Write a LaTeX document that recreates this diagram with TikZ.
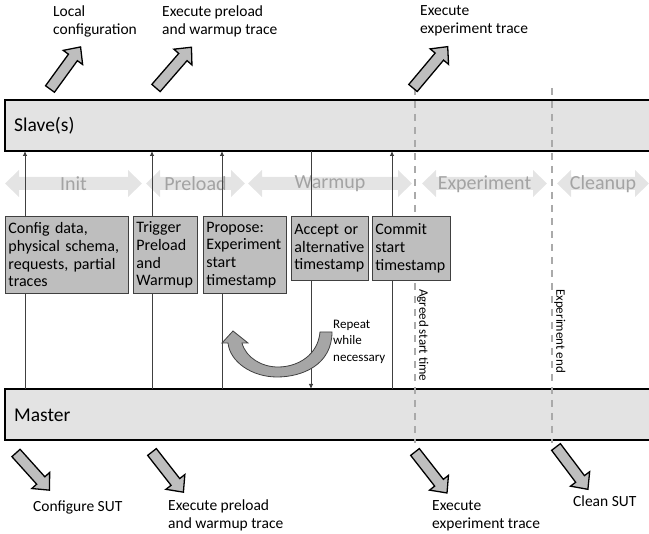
\documentclass[tikz,border=0pt]{standalone}
\usepackage{fontspec}
\setmainfont{Carlito}
\usetikzlibrary{arrows.meta}
\definecolor{barfill}{HTML}{E3E3E3}
\definecolor{boxfill}{HTML}{BEBEBE}
\definecolor{phfill}{HTML}{E4E4E4}
\definecolor{phtext}{HTML}{A3A3A3}
\definecolor{dashgray}{HTML}{AAAAAA}
\definecolor{linegray}{HTML}{404040}
\definecolor{curvefill}{HTML}{A6A6A6}

% phase double arrow: name, x1, x2, text
\newcommand{\phasearr}[4]{%
  \fill[phfill] (#2,183.5) -- (#2+14,170) -- (#2+14,177) -- (#3-14,177) -- (#3-14,170)
    -- (#3,183.5) -- (#3-14,197) -- (#3-14,190) -- (#2+14,190) -- (#2+14,197) -- cycle;
  \node[phasetext] (#1) at ({(#2+#3)/2},184) {#4};}

% block arrow: name, x, y, angle, length
\newcommand{\blockarr}[5]{%
  \begin{scope}[shift={(#2,#3)},rotate=#4]
    \draw[blockarrow] (0,-5.5) -- (#5-13,-5.5) -- (#5-13,-12) -- (#5,0) -- (#5-13,12)
      -- (#5-13,5.5) -- (0,5.5) -- cycle;
    \coordinate (#1) at (0,0);
  \end{scope}}

\begin{document}
\begin{tikzpicture}[x=1pt,y=-1pt,
  bar/.style={draw=black, line width=1.6pt, fill=barfill, anchor=north west,
    minimum width=660pt, minimum height=51pt, inner sep=0pt, outer sep=0pt},
  bartext/.style={font=\fontsize{19.5}{22}\selectfont, inner sep=0pt, anchor=base west},
  phasetext/.style={font=\fontsize{20}{22}\selectfont, text=phtext, inner sep=0pt},
  conn/.style={draw=linegray, line width=0.8pt},
  arr/.style={-{Latex[length=5pt,width=4.5pt]}},
  msgbox/.style={draw=linegray, line width=0.9pt, fill=boxfill, anchor=north west,
    align=left, inner sep=3pt, font=\fontsize{16}{17.7}\selectfont},
  dashline/.style={draw=dashgray, line width=2pt, dash pattern=on 7pt off 6pt},
  blockarrow/.style={draw=black, line width=1.3pt, fill=boxfill, line join=miter},
  lbl/.style={font=\fontsize{15.5}{18}\selectfont, align=left, inner sep=0pt, anchor=west},
  small/.style={font=\fontsize{13}{16.5}\selectfont, align=left, inner sep=0pt},
]
\useasboundingbox (0,0) rectangle (649,534);

% bars
\node[bar] (slave) at (5,100) {};
\node[bar] (master) at (5,389) {};
\node[bartext] (slavelbl) at (14,132) {Slave(s)};
\node[bartext] (masterlbl) at (14,422) {Master};

% dashed milestone lines
\coordinate (d1t) at (415,88);
\coordinate (d1b) at (415,443);
\coordinate (d2t) at (552,88);
\coordinate (d2b) at (552,443);
\draw[dashline] (d1t) -- (d1b);
\draw[dashline] (d2t) -- (d2b);

% phases
\phasearr{init}{5}{142}{Init}
\phasearr{preload}{146}{245}{Preload}
\phasearr{warmup}{248}{412}{Warmup}
\phasearr{experiment}{422}{547}{Experiment}
\phasearr{cleanup}{557}{649}{Cleanup}

% message connectors
\coordinate (m1) at (25,389);  \coordinate (s1) at (25,151);
\coordinate (m2) at (152,389); \coordinate (s2) at (152,151);
\coordinate (m3) at (222,389); \coordinate (s3) at (222,151);
\coordinate (m4) at (311,389); \coordinate (s4) at (311,151);
\coordinate (m5) at (392,389); \coordinate (s5) at (392,151);
\draw[conn,arr] (m1) -- (s1);
\draw[conn,arr] (m2) -- (s2);
\draw[conn,arr] (m3) -- (s3);
\draw[conn,arr] (s4) -- (m4);
\draw[conn,arr] (m5) -- (s5);

% message boxes
\node[msgbox, text width=117pt, minimum height=77pt] (b1) at (5,216)
  {Config data,\\physical schema,\\requests, partial\\traces};
\node[msgbox, text width=58pt, minimum height=77pt] (b2) at (133,216)
  {Trigger\\Preload\\and\\Warmup};
\node[msgbox, text width=77pt, minimum height=77pt] (b3) at (203,216)
  {Propose:\\Experiment\\start\\timestamp};
\node[msgbox, text width=71pt, minimum height=64pt] (b4) at (291,216)
  {Accept or\\alternative\\timestamp};
\node[msgbox, text width=72pt, minimum height=64pt] (b5) at (372,216)
  {Commit\\start\\timestamp};

% milestone labels
\node[small, rotate=-90, anchor=south west, inner sep=1pt] (agreed) at (416,288) {Agreed start time};
\node[small, rotate=-90, anchor=south west, inner sep=1pt] (expend) at (553,288) {Experiment end};

% repeat curved arrow
\draw[draw=linegray, line width=0.8pt, fill=curvefill, line join=miter]
  (320,332) -- (332,332) .. controls (332,365) and (302,377) .. (277,377)
  .. controls (252,377) and (230,362) .. (228,343) -- (222,343) -- (233,331)
  -- (248,343) -- (242,343) .. controls (246,358) and (262,367) .. (278,367)
  .. controls (298,367) and (318,355) .. (320,332) -- cycle;
\node[small, anchor=west] (repeat) at (333,341.5) {Repeat\\while\\necessary};

% slave actions (up)
\blockarr{ua1}{50}{89}{54}{52}
\blockarr{ua2}{156}{88}{49}{54}
\blockarr{ua3}{413}{88}{50}{54}
\node[lbl] (t1) at (53,21) {Local\\configuration};
\node[lbl] (t2) at (162,21) {Execute preload\\and warmup trace};
\node[lbl] (t3) at (420,21) {Execute\\experiment trace};

% master actions (down)
\blockarr{da1}{16}{453}{-48}{50}
\blockarr{da2}{152}{452}{-52}{51}
\blockarr{da3}{415}{452}{-52}{52}
\blockarr{da4}{556}{447}{-53}{53}
\node[lbl] (l1) at (33,507) {Configure SUT};
\node[lbl] (l2) at (168,515) {Execute preload\\and warmup trace};
\node[lbl] (l3) at (432,516) {Execute\\experiment trace};
\node[lbl] (l4) at (573,501) {Clean SUT};
\end{tikzpicture}
\end{document}
